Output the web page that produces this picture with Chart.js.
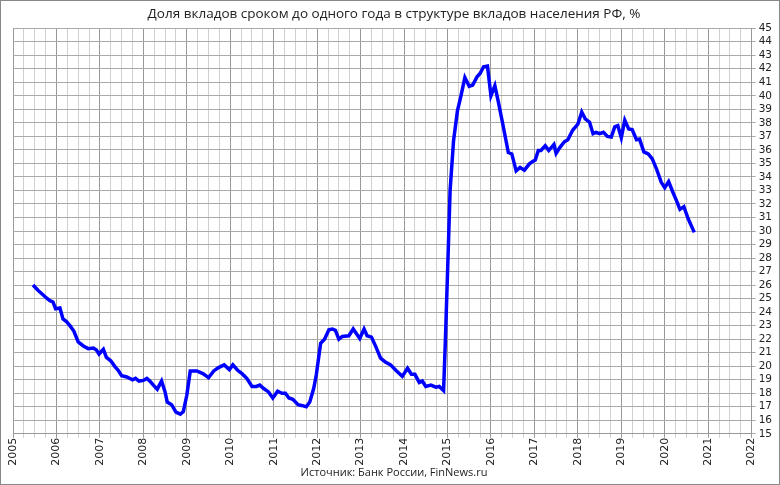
<!DOCTYPE html>
<html><head><meta charset="utf-8">
<script src="https://cdn.jsdelivr.net/npm/chart.js@4"></script>
<style>
html,body{margin:0;padding:0;background:#fff}
#wrap{position:absolute;left:0;top:0;width:778px;height:483px;border:1px solid #888;}
</style></head><body>
<div id="wrap"><canvas id="c" width="778" height="483"></canvas></div>
<script>
const titleText = 'Доля вкладов сроком до одного года в структуре вкладов населения РФ, %';
const sourceText = 'Источник: Банк России, FinNews.ru';
const dates = [2005.46,2005.58,2005.65,2005.77,2005.85,2005.92,2005.98,2006.08,2006.15,2006.23,2006.31,2006.4,2006.5,2006.62,2006.73,2006.85,2006.92,2006.98,2007.08,2007.15,2007.25,2007.35,2007.42,2007.5,2007.62,2007.75,2007.82,2007.9,2008.0,2008.08,2008.15,2008.23,2008.32,2008.42,2008.5,2008.55,2008.65,2008.75,2008.85,2008.92,2009.0,2009.08,2009.23,2009.37,2009.5,2009.62,2009.73,2009.86,2009.98,2010.06,2010.17,2010.27,2010.38,2010.5,2010.6,2010.68,2010.77,2010.88,2010.98,2011.09,2011.19,2011.27,2011.35,2011.44,2011.56,2011.64,2011.75,2011.83,2011.92,2011.98,2012.08,2012.17,2012.27,2012.35,2012.42,2012.5,2012.58,2012.73,2012.83,2012.98,2013.08,2013.15,2013.25,2013.35,2013.46,2013.57,2013.69,2013.81,2013.96,2014.08,2014.17,2014.25,2014.35,2014.42,2014.5,2014.62,2014.73,2014.81,2014.91,2014.95,2015.0,2015.06,2015.14,2015.23,2015.31,2015.4,2015.5,2015.58,2015.68,2015.75,2015.83,2015.92,2016.0,2016.09,2016.17,2016.27,2016.4,2016.48,2016.58,2016.67,2016.77,2016.88,2016.96,2017.02,2017.09,2017.15,2017.25,2017.33,2017.45,2017.5,2017.58,2017.69,2017.77,2017.88,2018.0,2018.09,2018.17,2018.27,2018.35,2018.42,2018.5,2018.59,2018.68,2018.77,2018.85,2018.92,2019.0,2019.08,2019.17,2019.25,2019.35,2019.42,2019.52,2019.62,2019.71,2019.81,2019.92,2020.0,2020.09,2020.19,2020.27,2020.35,2020.44,2020.54,2020.68];
const shares = [26.0,25.6,25.4,25.05,24.85,24.75,24.25,24.3,23.5,23.3,23.0,22.6,21.8,21.5,21.3,21.35,21.2,20.9,21.25,20.65,20.4,19.95,19.7,19.3,19.2,19.0,19.1,18.9,18.95,19.1,18.9,18.6,18.3,18.9,18.1,17.35,17.15,16.6,16.45,16.65,17.85,19.65,19.65,19.45,19.15,19.65,19.9,20.1,19.75,20.1,19.7,19.45,19.1,18.5,18.5,18.6,18.35,18.1,17.65,18.15,18.0,18.0,17.65,17.55,17.15,17.1,17.0,17.35,18.35,19.35,21.7,22.0,22.7,22.75,22.65,22.0,22.2,22.25,22.75,22.05,22.75,22.25,22.15,21.45,20.6,20.3,20.1,19.7,19.25,19.85,19.4,19.4,18.8,18.9,18.5,18.6,18.45,18.5,18.2,21.8,26.8,33.0,36.7,38.9,40.0,41.35,40.7,40.8,41.4,41.65,42.15,42.2,40.0,40.75,39.55,37.95,35.8,35.7,34.45,34.7,34.5,34.95,35.15,35.25,35.95,35.95,36.3,35.95,36.4,35.75,36.15,36.6,36.75,37.45,37.9,38.8,38.3,38.05,37.2,37.3,37.2,37.3,37.0,36.95,37.7,37.8,36.9,38.2,37.55,37.5,36.75,36.8,35.85,35.7,35.35,34.6,33.6,33.2,33.65,32.85,32.25,31.6,31.8,30.9,29.9];
const xMin = 2005, xMax = 2022, yMin = 15, yMax = 45;
const F = "'DejaVu Sans', Verdana, sans-serif";
new Chart(document.getElementById('c'), {
  type: 'line',
  data: { datasets: [{ data: dates.map((d,i)=>({x:d,y:shares[i]})), borderColor:'#0000ff', borderWidth:3.5, pointRadius:0, tension:0, fill:false }] },
  options: {
    responsive:false, animation:false, devicePixelRatio:1,
    layout:{ padding:{ left:12, right:4, top:0, bottom:0 } },
    plugins:{ legend:{display:false}, tooltip:{enabled:false},
      title:{ display:true, text:titleText, color:'#222', font:{family:"'Open Sans', sans-serif", size:13.5, weight:'normal'}, padding:{top:5,bottom:6} },
      subtitle:{ display:true, position:'bottom', text:sourceText, color:'#222', font:{family:"'Open Sans', sans-serif", size:11}, padding:{top:0,bottom:5}, align:'center' }
    },
    scales:{
      x:{ type:'linear', min:xMin, max:xMax,
        afterBuildTicks:(ax)=>{ const t=[]; for(let i=0;i<=(xMax-xMin)*4;i++) t.push({value:xMin+i/4}); ax.ticks=t; },
        ticks:{ autoSkip:false, minRotation:90, maxRotation:90, color:'#222', font:{family:F,size:11}, padding:0,
          callback:(v)=> Math.abs(v-Math.round(v))<1e-6 ? String(Math.round(v)) : '' },
        grid:{ color:(c)=> (Math.abs(c.tick.value-Math.round(c.tick.value))<1e-6) ? '#999' : '#d0d0d0', lineWidth:1, drawTicks:true, tickLength:4 },
        border:{ color:'#999' }
      },
      y:{ position:'right', min:yMin, max:yMax,
        afterBuildTicks:(ax)=>{ const t=[]; for(let v=yMin;v<=yMax;v++) t.push({value:v}); ax.ticks=t; },
        ticks:{ autoSkip:false, color:'#222', font:{family:F,size:10.5}, padding:3 },
        grid:{ color:'#aaa', lineWidth:1, tickLength:4 },
        border:{ color:'#999' }
      }
    }
  }
});
</script></body></html>
